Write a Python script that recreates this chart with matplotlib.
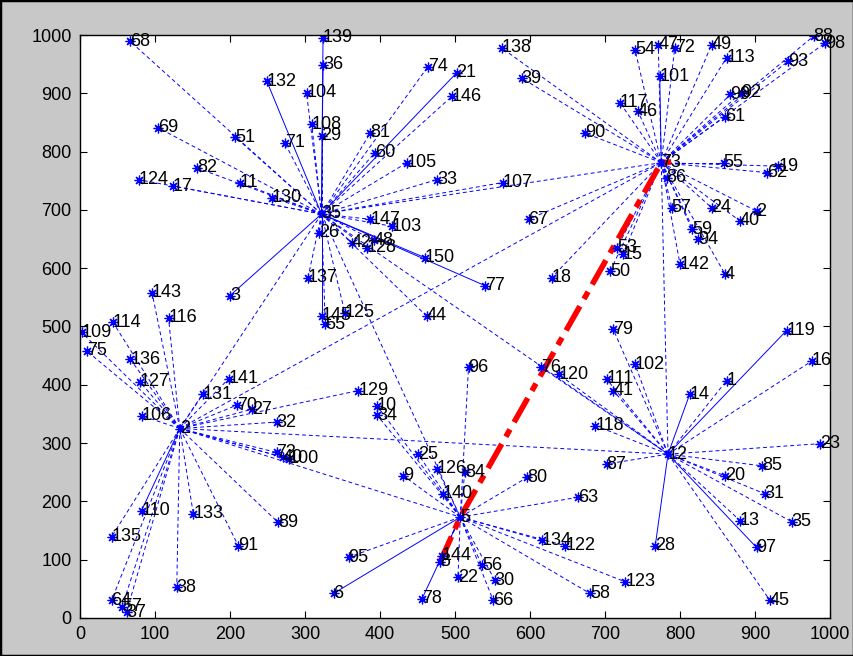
import numpy as np
import matplotlib.pyplot as plt
from matplotlib.patches import Rectangle

plt.rcParams['font.family'] = ['Liberation Sans', 'DejaVu Sans']

# cluster heads
head_labels = ['35', '2', '5', '12', '73']
head_x = [322, 133, 507, 784, 775]
head_y = [693, 325, 173, 281, 781]

# links between cluster heads (dashed)
head_links = [(0, 1), (0, 2), (0, 3), (0, 4), (1, 2), (1, 3), (1, 4), (3, 4)]

# member nodes: label, x, y, cluster head index, solid link flag
node_labels = ['68', '69', '51', '82', '124', '17', '11', '139', '36', '132', '104', '108', '29', '71',
               '81', '60', '105', '33', '74', '21', '146', '130', '147', '103', '26', '137', '145', '65',
               '125', '44', '150', '42', '128', '48', '3', '77', '107',
               '143', '116', '114', '109', '75', '136', '127', '106', '131', '141', '70', '27', '32',
               '73', '40', '100', '89', '129', '110', '133', '135', '91', '38', '64', '57', '37',
               '10', '34', '25', '9', '126', '140', '84', '96', '95', '6', '78', '144', '8', '80',
               '63', '134', '122', '56', '22', '30', '66', '58', '123',
               '118', '87', '23', '85', '20', '31', '35', '13', '97', '45', '28', '119', '16', '14',
               '1', '102', '76', '120', '111', '41', '79',
               '138', '39', '90', '117', '46', '54', '47', '72', '101', '49', '113', '88', '98', '93',
               '99', '92', '61', '55', '62', '19', '57', '24', '2', '40', '59', '94', '142', '4', '18',
               '67', '53', '15', '50', '86']
node_x = [67, 104, 207, 156, 78, 124, 213, 324, 324, 249, 302, 309, 322, 273,
          387, 393, 436, 476, 464, 502, 496, 256, 387, 416, 319, 304, 322, 327,
          353, 462, 460, 362, 382, 392, 200, 540, 564,
          96, 118, 44, 2, 9, 67, 80, 82, 164, 198, 209, 229, 262,
          262, 270, 278, 264, 371, 82, 151, 42, 211, 129, 42, 56, 62,
          396, 396, 451, 431, 476, 484, 513, 518, 358, 338, 456, 482, 480, 596,
          664, 616, 647, 536, 504, 553, 551, 680, 727,
          687, 702, 987, 909, 860, 913, 949, 880, 902, 920, 767, 942, 976, 813,
          862, 740, 615, 638, 702, 711, 711,
          562, 589, 673, 720, 744, 740, 771, 793, 773, 842, 862, 978, 993, 944,
          867, 882, 860, 858, 916, 931, 789, 842, 902, 880, 816, 824, 800, 860, 629,
          598, 716, 724, 707, 782]
node_y = [989, 841, 825, 772, 752, 741, 747, 995, 949, 921, 901, 847, 827, 815,
          832, 798, 781, 752, 946, 935, 895, 721, 684, 672, 661, 584, 518, 504,
          524, 518, 618, 644, 635, 648, 553, 570, 747,
          558, 515, 507, 490, 458, 444, 405, 347, 384, 410, 365, 358, 336,
          284, 276, 273, 164, 390, 184, 179, 139, 124, 53, 30, 19, 10,
          364, 348, 281, 244, 256, 213, 250, 430, 104, 42, 33, 107, 96, 241,
          207, 133, 124, 90, 70, 65, 30, 42, 62,
          330, 264, 299, 261, 244, 213, 165, 167, 121, 30, 124, 493, 441, 384,
          407, 435, 430, 418, 410, 390, 495,
          978, 926, 832, 884, 869, 975, 983, 978, 929, 983, 961, 998, 986, 955,
          898, 901, 860, 781, 764, 775, 704, 704, 698, 681, 667, 650, 607, 590, 584,
          684, 635, 624, 595, 755]
node_head = [0] * 37 + [1] * 26 + [2] * 23 + [3] * 21 + [4] * 34
node_solid = ['139', '36', '132', '21', '145', '150', '3', '77', '110', '6', '78',
              '97', '28', '119', '14', '101']

# route to the sink
route_x = [480, 507, 775, 796]
route_y = [96, 173, 781, 783]

fig = plt.figure(figsize=(8.54, 6.56), dpi=100, facecolor='#c8c8c8')
ax = fig.add_axes([0.0937, 0.058, 0.8782, 0.8886])

for a, b in head_links:
    ax.plot([head_x[a], head_x[b]], [head_y[a], head_y[b]], color='blue', lw=0.7,
            linestyle=(0, (4, 3)))

for lab, x, y, h in zip(node_labels, node_x, node_y, node_head):
    ls = '-' if lab in node_solid else (0, (4, 3))
    ax.plot([head_x[h], x], [head_y[h], y], color='blue', lw=0.7, linestyle=ls)

ax.plot(route_x, route_y, color='red', lw=4, linestyle=(0, (5, 1.5, 1.5, 1.5)))

ax.plot(node_x + head_x, node_y + head_y, linestyle='none', marker=(8, 2, 0),
        markersize=7, color='blue', markeredgewidth=0.9)

for lab, x, y in zip(node_labels + head_labels, node_x + head_x, node_y + head_y):
    ax.text(x, y, lab, fontsize=13, ha='left', va='center', color='black')

ax.set_xlim(0, 1000)
ax.set_ylim(0, 1000)
ax.set_xticks(np.arange(0, 1001, 100))
ax.set_yticks(np.arange(0, 1001, 100))
ax.tick_params(direction='in', length=5, top=True, right=True, labelsize=13, pad=6)
for s in ax.spines.values():
    s.set_linewidth(1.0)

fig.patches.append(Rectangle((0, 0), 1, 1, transform=fig.transFigure, fill=False,
                             edgecolor='black', linewidth=2.5))

fig.savefig('out.png', dpi=100, facecolor=fig.get_facecolor())
